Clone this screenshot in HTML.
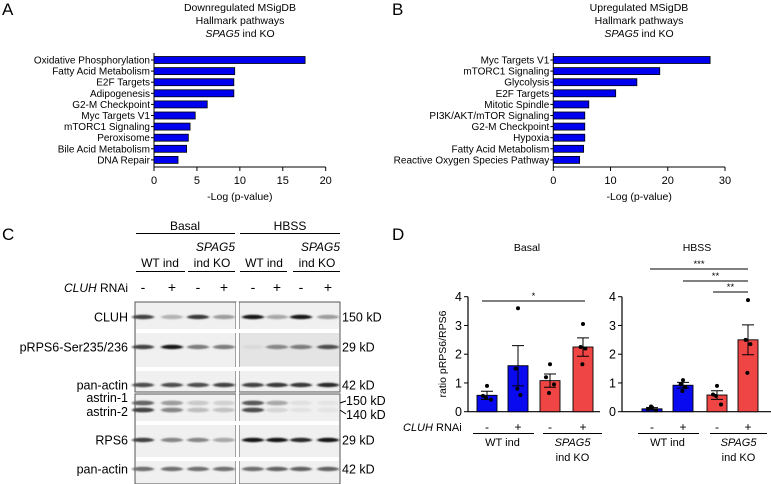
<!DOCTYPE html>
<html><head><meta charset="utf-8"><style>
body{margin:0;background:#fff}
svg{display:block;font-family:"Liberation Sans",sans-serif}
</style></head><body>
<svg id="fig" width="771" height="484" viewBox="0 0 771 484">
<defs><filter id="blur" x="-20%" y="-200%" width="140%" height="500%"><feGaussianBlur stdDeviation="1.3 0.9"/></filter></defs>
<g id="panelA">
<text x="2" y="15" font-size="17">A</text>
<text x="240" y="11" font-size="10.5" text-anchor="middle">Downregulated MSigDB</text>
<text x="240" y="24" font-size="10.5" text-anchor="middle">Hallmark pathways</text>
<text x="240" y="37" font-size="10.5" text-anchor="middle"><tspan font-style="italic">SPAG5</tspan> ind KO</text>
</g>
<g id="panelB">
<text x="392" y="15" font-size="17">B</text>
<text x="639" y="11" font-size="10.5" text-anchor="middle">Upregulated MSigDB</text>
<text x="639" y="24" font-size="10.5" text-anchor="middle">Hallmark pathways</text>
<text x="639" y="37" font-size="10.5" text-anchor="middle"><tspan font-style="italic">SPAG5</tspan> ind KO</text>
</g>
<g id="panelC">
<text x="2" y="240" font-size="17">C</text>
<text x="185" y="230" font-size="12" text-anchor="middle">Basal</text>
<text x="290" y="230" font-size="12" text-anchor="middle">HBSS</text>
<line x1="136" x2="235" y1="233.5" y2="233.5" stroke="#000"/>
<line x1="240" x2="340" y1="233.5" y2="233.5" stroke="#000"/>
<text x="235" y="251" font-size="12" text-anchor="end" font-style="italic">SPAG5</text>
<text x="340" y="251" font-size="12" text-anchor="end" font-style="italic">SPAG5</text>
<text x="160" y="267" font-size="12" text-anchor="middle">WT ind</text>
<text x="212" y="267" font-size="12" text-anchor="middle">ind KO</text>
<text x="264" y="267" font-size="12" text-anchor="middle">WT ind</text>
<text x="317" y="267" font-size="12" text-anchor="middle">ind KO</text>
<g stroke="#000">
<line x1="136" x2="185" y1="271.5" y2="271.5"/><line x1="188" x2="235" y1="271.5" y2="271.5"/>
<line x1="240" x2="287" y1="271.5" y2="271.5"/><line x1="293" x2="340" y1="271.5" y2="271.5"/></g>
<text x="128" y="292" font-size="12" text-anchor="end"><tspan font-style="italic">CLUH</tspan> RNAi</text>
<g id="blots"></g>
</g>
<g id="panelD">
<text x="392" y="240" font-size="17">D</text>
<text x="527" y="251" font-size="10.5" text-anchor="middle">Basal</text>
<text x="697" y="251" font-size="10.5" text-anchor="middle">HBSS</text>
<text transform="translate(446,354) rotate(-90)" font-size="10.5" text-anchor="middle">ratio pRPS6/RPS6</text>
<text x="403" y="431" font-size="11"><tspan font-style="italic">CLUH</tspan> RNAi</text>
</g>
</svg>
<script>
const NS="http://www.w3.org/2000/svg";
function mk(p,tag,at,txt){const e=document.createElementNS(NS,tag);for(const k in at)e.setAttribute(k,at[k]);if(txt!==undefined)e.textContent=txt;p.appendChild(e);return e;}

// Panel A data
const catsA=["Oxidative Phosphorylation","Fatty Acid Metabolism","E2F Targets","Adipogenesis","G2-M Checkpoint","Myc Targets V1","mTORC1 Signaling","Peroxisome","Bile Acid Metabolism","DNA Repair"];
const valsA=[17.6,9.4,9.3,9.3,6.2,4.8,4.2,4.0,3.8,2.8];
const ticksA=[0,5,10,15,20];
// Panel B data
const catsB=["Myc Targets V1","mTORC1 Signaling","Glycolysis","E2F Targets","Mitotic Spindle","PI3K/AKT/mTOR Signaling","G2-M Checkpoint","Hypoxia","Fatty Acid Metabolism","Reactive Oxygen Species Pathway"];
const valsB=[27.4,18.6,14.6,10.9,6.2,5.5,5.5,5.5,5.3,4.6];
const ticksB=[0,10,20,30];

function hbar(gid,cats,vals,ticks,x0,x1,max,pref){
  const g=document.getElementById(gid);
  const sx=v=>x0+(x1-x0)*v/max;
  const sy=i=>60+i*11.1;
  const ax=mk(g,'line',{x1:x0,x2:x0,y1:53,y2:167,stroke:'#000'});
  
  
  const bx=mk(g,'line',{x1:x0,x2:x1,y1:167,y2:167,stroke:'#000'});
  
  
  cats.forEach((c,i)=>{
    const r=mk(g,'rect',{x:x0,y:sy(i)-3.5,width:sx(vals[i])-x0,height:7,fill:'#0000f0',stroke:'#000','stroke-width':0.8});
    
    
    mk(g,'line',{x1:x0-3,x2:x0,y1:sy(i),y2:sy(i),stroke:'#000'});
    const t=mk(g,'text',{x:x0-4,y:sy(i)+3.5,'font-size':10,'text-anchor':'end'},c);
    
    
  });
  ticks.forEach(v=>{
    mk(g,'line',{x1:sx(v),x2:sx(v),y1:167,y2:171,stroke:'#000'});
    const t=mk(g,'text',{x:sx(v),y:184,'font-size':11,'text-anchor':'middle'},v);
    
    
  });
  const t=mk(g,'text',{x:(x0+x1)/2,y:200,'font-size':10.5,'text-anchor':'middle'},'-Log (p-value)');
  
  
}
hbar('panelA',catsA,valsA,ticksA,154,325.7,20,'chart-a');
hbar('panelB',catsB,valsB,ticksB,553.3,725,30,'chart-b');

// Panel C blots
const lanes=[143,172,198,224,253,277,301,328];
const signs=['-','+','-','+','-','+','-','+'];
const cl=document.getElementById('panelC');
lanes.forEach((x,i)=>{const t=mk(cl,'text',{x:x,y:292,'font-size':14,'text-anchor':'middle'},signs[i]);
 
 });
const rows=[
 {n:'CLUH',y:317,kd:'150 kD',b:[.75,.25,.8,.35,.95,.3,.95,.35]},
 {n:'pRPS6-Ser235/236',y:347,kd:'29 kD',b:[.75,.95,.5,.5,.08,.45,.5,.7]},
 {n:'pan-actin',y:385,kd:'42 kD',b:[.7,.7,.7,.75,.75,.8,.8,.85]},
 {n:'RPS6',y:440,kd:'29 kD',b:[.75,.45,.45,.3,.95,.95,.85,.95]},
 {n:'pan-actin',y:469,kd:'42 kD',b:[.55,.55,.55,.55,.55,.6,.6,.6]}];
const bl=document.getElementById('blots');
[[135,302,101,90],[239,302,101,90],[135,394,101,90],[239,394,101,90]].forEach(b=>{
 const r=mk(bl,'rect',{x:b[0],y:b[1],width:b[2],height:b[3],fill:'#f0f0f0',stroke:'#555'});
 
 });
[329,367,421,457].forEach(y=>mk(bl,'rect',{x:136,y:y,width:203,height:4,fill:'#fff'}));
mk(bl,'rect',{x:236,y:302,width:3,height:182,fill:'#fff'});
mk(bl,'rect',{x:240,y:333,width:99,height:33,fill:'#e4e4e4'});
rows.forEach(r=>{
 const t=mk(cl,'text',{x:128,y:r.y+4.5,'font-size':12.5,'text-anchor':'end'},r.n);
 
 
 const k=mk(cl,'text',{x:342,y:r.y+4.5,'font-size':12.5},r.kd);
 
 
 r.b.forEach((d,i)=>{const c=Math.round(235-225*d);
  const e=mk(bl,'ellipse',{cx:lanes[i],cy:r.y,rx:11,ry:2.2,fill:`rgb(${c},${c},${c})`,filter:'url(#blur)'});
  
  });
});
// astrin
const ast1=[.6,.35,.15,.12,.65,.3,.05,.03], ast2=[.75,.45,.2,.18,.7,.1,.04,.03];
lanes.forEach((x,i)=>{[[403,ast1[i]],[410,ast2[i]]].forEach(a=>{const c=Math.round(235-225*a[1]);
 const e=mk(bl,'ellipse',{cx:x,cy:a[0],rx:11,ry:2.4,fill:`rgb(${c},${c},${c})`,filter:'url(#blur)'});
 
 });});
[['astrin-1',402],['astrin-2',416]].forEach(a=>{const t=mk(cl,'text',{x:128,y:a[1],'font-size':12.5,'text-anchor':'end'},a[0]);
 
 });
[['150 kD',405],['140 kD',419]].forEach(a=>{const t=mk(cl,'text',{x:346,y:a[1],'font-size':12.5},a[0]);
 
 });
mk(cl,'path',{d:'M340 403 L346 401 M340 410 L346 414',stroke:'#000',fill:'none'});

// Panel D data
const basalMeans=[0.57,1.6,1.08,2.25];
const basalSem=[0.14,0.7,0.23,0.32];
const basalPts=[[0.9,0.55,0.42,0.48],[3.6,1.5,0.58,0.8],[1.65,1.2,0.95,0.65],[3.05,2.25,2.2,1.65]];
const hbssMeans=[0.1,0.92,0.58,2.5];
const hbssSem=[0.04,0.1,0.15,0.52];
const hbssPts=[[0.15,0.1,0.05,0.18],[1.1,0.95,0.85,0.72],[0.9,0.6,0.25,0.55],[3.88,2.5,2.35,1.35]];
const ticksD=[0,1,2,3,4];
const colorsD=['#0a0af0','#0a0af0','#f04545','#f04545'];
const rnaiD=['-','+','-','+'];
const pd=document.getElementById('panelD');
function dchart(ax0,ax1,xs,means,sem,pts,sig,pref){
 const sy=v=>411.7-28.75*v;
 const a=mk(pd,'line',{x1:ax0,x2:ax0,y1:sy(4),y2:sy(0),stroke:'#000','stroke-width':1.2});
 
 
 const b=mk(pd,'line',{x1:ax0,x2:ax1,y1:sy(0),y2:sy(0),stroke:'#000','stroke-width':1.2});
 
 
 ticksD.forEach(v=>{mk(pd,'line',{x1:ax0-4,x2:ax0,y1:sy(v),y2:sy(v),stroke:'#000'});
  const t=mk(pd,'text',{x:ax0-6,y:sy(v)+4.5,'font-size':12.5,'text-anchor':'end'},v);
  
  });
 means.forEach((m,i)=>{const x=xs[i];
  const r=mk(pd,'rect',{x:x-10,y:sy(m),width:20,height:sy(0)-sy(m),fill:colorsD[i],stroke:'#000','stroke-width':0.9});
  
  
  mk(pd,'path',{d:`M${x} ${sy(m-sem[i])} V${sy(m+sem[i])} M${x-6} ${sy(m+sem[i])} H${x+6} M${x-6} ${sy(m-sem[i])} H${x+6}`,stroke:'#000','stroke-width':1,fill:'none'});
  pts[i].forEach((p,j)=>{const c=mk(pd,'circle',{cx:x+[0,-4,4,-1][j]*(i%2?0.6:1),cy:sy(p),r:2,fill:'#000'});
   
   });
  const t=mk(pd,'text',{x:x,y:431,'font-size':12,'text-anchor':'middle'},rnaiD[i]);
  
  
 });
 mk(pd,'line',{x1:xs[0]-14,x2:xs[1]+16,y1:433.5,y2:433.5,stroke:'#000'});
 mk(pd,'line',{x1:xs[2]-7,x2:xs[3]+19,y1:433.5,y2:433.5,stroke:'#000'});
 const w=mk(pd,'text',{x:(xs[0]+xs[1])/2,y:446,'font-size':11,'text-anchor':'middle'},'WT ind');
 
 
 const s=mk(pd,'text',{x:(xs[2]+xs[3])/2+6,y:446,'font-size':11,'text-anchor':'middle','font-style':'italic'},'SPAG5');
 
 
 const k=mk(pd,'text',{x:(xs[2]+xs[3])/2+6,y:461,'font-size':11,'text-anchor':'middle'},'ind KO');
 
 
 sig.forEach(sg=>{const l=mk(pd,'line',{x1:sg[0],x2:sg[1],y1:sg[2],y2:sg[2],stroke:'#000'});
  
  
  const t=mk(pd,'text',{x:(sg[0]+sg[1])/2,y:sg[2]-2,'font-size':9.5,'text-anchor':'middle'},sg[3]);
  
  });
}
dchart(468,600,[487,518,550,583],basalMeans,basalSem,basalPts,[[482,585,301,'*']],'basal');
dchart(622,771,[652,683,717,748],hbssMeans,hbssSem,hbssPts,[[650,748,269,'***'],[683,748,281,'**'],[713,748,292,'**']],'hbss');
</script>
</body></html>
